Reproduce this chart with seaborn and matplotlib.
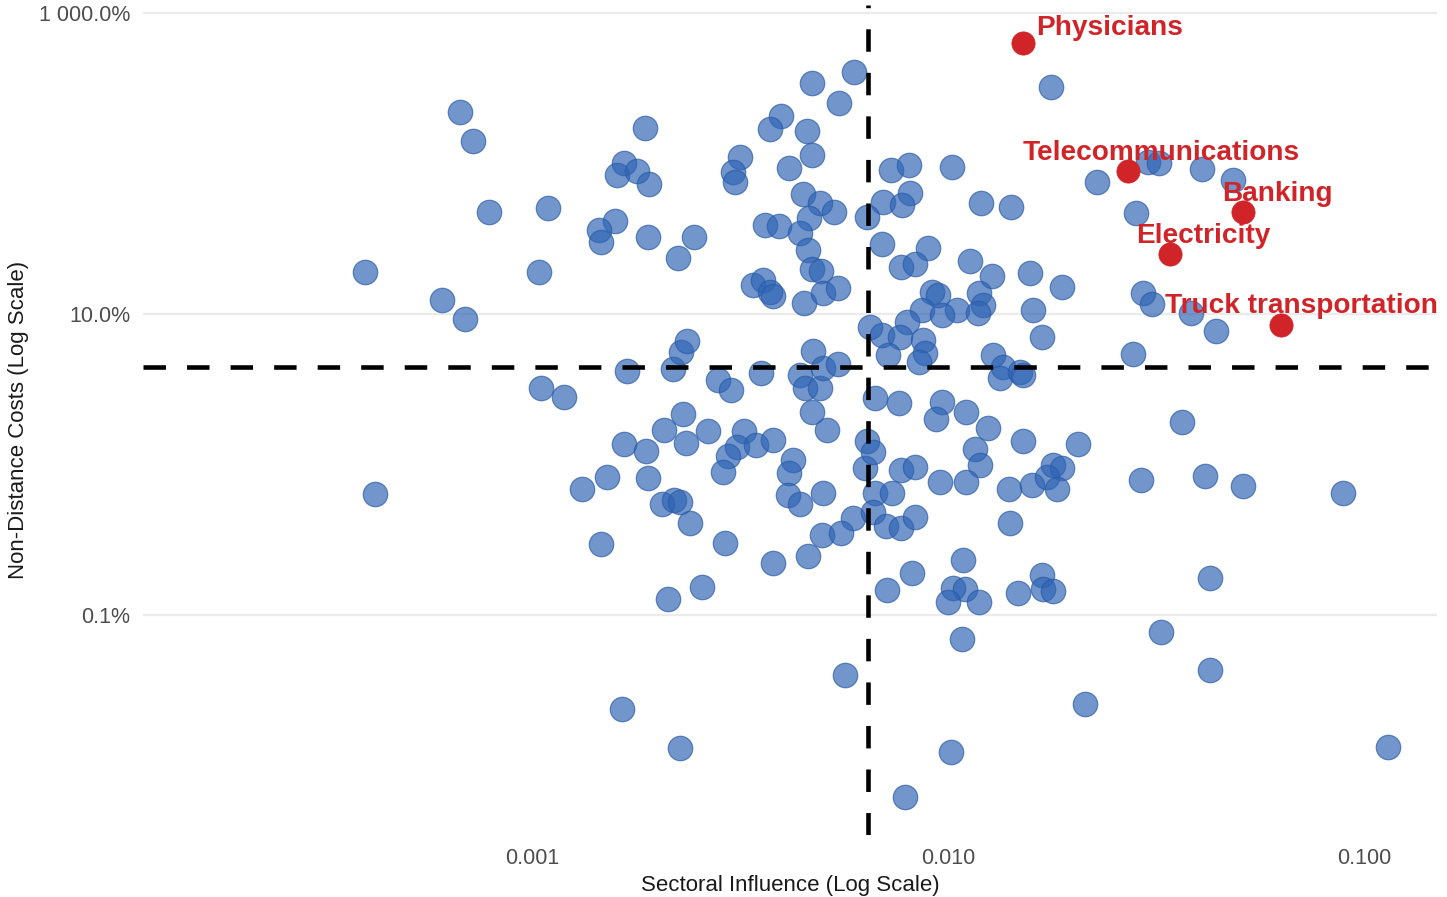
import matplotlib
matplotlib.use("Agg")
import matplotlib.pyplot as plt
import pandas as pd
import seaborn as sns
from matplotlib.ticker import FixedLocator, FixedFormatter, NullLocator

# Sectoral influence (x) and non-distance costs in percent (y) for each sector
sector_influence = [
    0.00594, 0.00471, 0.00547, 0.0177, 0.000671, 0.000721, 0.00187, 0.00397, 0.00372, 0.00458,
    0.00471, 0.00315, 0.00304, 0.00308, 0.00415, 0.00166, 0.00160, 0.00179, 0.00191, 0.00729,
    0.00806, 0.01023, 0.0228, 0.0303, 0.0321, 0.0408, 0.0484, 0.000788, 0.00109, 0.00158,
    0.00145, 0.00146, 0.00190, 0.00245, 0.00224, 0.00448, 0.00492, 0.00530, 0.00463, 0.00363,
    0.00392, 0.00441, 0.00461, 0.00471, 0.00495, 0.00698, 0.00811, 0.00775, 0.00638, 0.0120,
    0.01416, 0.0282, 0.00694, 0.00895, 0.00771, 0.00833, 0.01130, 0.01276, 0.01574, 0.01879,
    0.000397, 0.00104, 0.000608, 0.000690, 0.00340, 0.00359, 0.00373, 0.00380, 0.00451, 0.00501,
    0.00544, 0.00916, 0.00946, 0.01188, 0.01214, 0.00866, 0.01051, 0.01600, 0.00968, 0.02944,
    0.03090, 0.03837, 0.04406, 0.01683, 0.00650, 0.00694, 0.00797, 0.00767, 0.00871, 0.00881,
    0.00717, 0.00851, 0.01283, 0.01355, 0.01334, 0.01489, 0.01514, 0.02786, 0.00169, 0.00218,
    0.00228, 0.00236, 0.00279, 0.00301, 0.00355, 0.00473, 0.00441, 0.00453, 0.00492, 0.00501,
    0.00544, 0.00471, 0.00512, 0.00105, 0.00119, 0.00231, 0.00207, 0.00166, 0.00188, 0.00234,
    0.00265, 0.00323, 0.00311, 0.00296, 0.00288, 0.00345, 0.00380, 0.00424, 0.00415, 0.00412,
    0.00441, 0.00501, 0.00151, 0.00190, 0.00205, 0.00219, 0.00227, 0.00239, 0.00146, 0.00291,
    0.00591, 0.00498, 0.00553, 0.00461, 0.00380, 0.00638, 0.00631, 0.000420, 0.00132,
    0.00668, 0.00762, 0.00968, 0.00935, 0.01105, 0.01248, 0.00661, 0.01514, 0.02053, 0.01161,
    0.01194, 0.00771, 0.00833, 0.00957, 0.01105, 0.01402, 0.01592, 0.01787, 0.01879, 0.01730,
    0.01828, 0.00668, 0.00733, 0.00661, 0.00710, 0.00771, 0.00833, 0.01409, 0.01087, 0.00819,
    0.01683, 0.03652, 0.02911, 0.04149, 0.0512, 0.0891, 0.04266, 0.0325, 0.04266, 0.1143,
    0.00713, 0.01028, 0.01099, 0.01000, 0.01188, 0.01472, 0.01691, 0.01787, 0.01081, 0.02133,
    0.01016, 0.00788, 0.00212, 0.00256, 0.00565, 0.00164, 0.00227, 0.01180,
]
non_distance_cost_pct = [
    405, 343, 252, 322, 220, 141, 172, 207, 169, 164,
    114, 110, 87.8, 75.4, 93.3, 101, 83.9, 89.1, 73.1, 90.6,
    97.7, 94.8, 75.4, 102, 101, 91.9, 77.7, 47.6, 50.6, 41.5,
    36.1, 30.1, 32.5, 32.5, 23.6, 62.7, 54.7, 47.6, 43.4, 39.0,
    38.4, 34.5, 26.6, 19.9, 19.3, 55.5, 63.7, 53.0, 44.1, 54.7,
    51.4, 46.9, 29.2, 27.5, 20.5, 21.5, 22.5, 17.9, 18.7, 15.1,
    19.0, 19.0, 12.4, 9.27, 15.6, 16.8, 14.0, 13.2, 11.8, 13.8,
    14.9, 14.0, 13.4, 13.8, 11.5, 10.6, 10.6, 10.6, 9.85, 13.8,
    11.7, 10.2, 7.71, 7.03, 8.20, 7.25, 8.85, 7.03, 6.71, 5.51,
    5.34, 4.80, 5.34, 4.45, 3.76, 4.12, 3.94, 5.42, 4.18, 4.31,
    5.60, 6.62, 3.64, 3.13, 4.06, 5.68, 3.94, 3.23, 3.23, 4.38,
    4.66, 2.23, 1.69, 3.23, 2.81, 2.17, 1.69, 1.37, 1.23, 1.39,
    1.67, 1.67, 1.31, 1.14, 0.891, 1.35, 1.46, 1.07, 0.878, 0.627,
    0.547, 0.647, 0.826, 0.813, 0.547, 0.581, 0.564, 0.408, 0.298, 0.301,
    0.441, 0.340, 0.351, 0.247, 0.222, 1.43, 0.948, 0.637, 0.687,
    2.77, 2.56, 2.60, 2.01, 2.23, 1.75, 1.21, 1.43, 1.37, 1.27,
    0.993, 0.919, 0.962, 0.766, 0.766, 0.687, 0.731, 0.993, 0.948, 0.826,
    0.687, 0.647, 0.647, 0.483, 0.390, 0.379, 0.448, 0.408, 0.232, 0.190,
    0.184, 1.91, 0.789, 0.839, 0.720, 0.647, 0.176, 0.0771, 0.0431, 0.0133,
    0.147, 0.151, 0.149, 0.122, 0.122, 0.140, 0.149, 0.144, 0.0693, 0.0256,
    0.0123, 0.00618, 0.128, 0.153, 0.0399, 0.0237, 0.0131, 10.2,
]

# Highlighted sectors
highlight_names = ["Physicians", "Telecommunications", "Banking", "Electricity", "Truck transportation"]
highlight_influence = [0.0151, 0.0271, 0.0512, 0.0342, 0.0631]
highlight_cost_pct = [631, 89.0, 47.6, 25.0, 8.45]

# Quadrant cut-offs
influence_cutoff = 0.0064
cost_cutoff_pct = 4.45

x_ticks = [0.001, 0.01, 0.1]
x_tick_labels = ["0.001", "0.010", "0.100"]
y_ticks = [0.1, 10, 1000]
y_tick_labels = ["0.1%", "10.0%", "1 000.0%"]

sectors = pd.DataFrame({"influence": sector_influence, "cost": non_distance_cost_pct})
highlights = pd.DataFrame({"name": highlight_names, "influence": highlight_influence,
                           "cost": highlight_cost_pct})

sns.set_theme(style="white")
plt.rcParams["font.family"] = ["Liberation Sans", "DejaVu Sans"]

BLUE = "#2F64B4"
RED = "#D02428"

fig = plt.figure(figsize=(14.47, 8.97), dpi=100)
ax = fig.add_axes([143 / 1447, 62 / 897, 1294 / 1447, 830 / 897])
ax.set_xscale("log")
ax.set_yscale("log")
ax.set_xlim(0.000116, 0.1496)
ax.set_ylim(0.00345, 1130)

sns.scatterplot(data=sectors, x="influence", y="cost", ax=ax, s=310, color=BLUE,
                alpha=0.68, edgecolor="#285AA6", linewidth=0.9, zorder=3, legend=False)
sns.scatterplot(data=highlights, x="influence", y="cost", ax=ax, s=280, color=RED,
                alpha=1.0, edgecolor=RED, linewidth=0.5, zorder=4, legend=False)

dash = (0, (4.9, 4.6))
ax.axvline(influence_cutoff, color="black", linewidth=3.3, linestyle=dash, zorder=5)
ax.axhline(cost_cutoff_pct, color="black", linewidth=3.3, linestyle=dash, zorder=5)

# Label placement relative to each highlighted point (pixels)
label_offsets = [(87, 15), (33, 18), (34, 18), (33, 18), (20, 19)]
for name, xv, yv, (dx, dy) in zip(highlight_names, highlight_influence, highlight_cost_pct, label_offsets):
    ax.annotate(name, (xv, yv), xytext=(dx, dy), textcoords="offset pixels",
                ha="center", va="center", color=RED, fontsize=20.2, fontweight="bold", zorder=6)

ax.xaxis.set_major_locator(FixedLocator(x_ticks))
ax.xaxis.set_major_formatter(FixedFormatter(x_tick_labels))
ax.yaxis.set_major_locator(FixedLocator(y_ticks))
ax.yaxis.set_major_formatter(FixedFormatter(y_tick_labels))
ax.xaxis.set_minor_locator(NullLocator())
ax.yaxis.set_minor_locator(NullLocator())

ax.grid(False)
ax.yaxis.grid(True, color="#EBEBEB", linewidth=1.6, zorder=0)
ax.set_axisbelow(True)
for sp in ax.spines.values():
    sp.set_visible(False)
ax.tick_params(axis="both", length=0, labelsize=15.5, labelcolor="#4D4D4D")
ax.tick_params(axis="x", pad=9)
ax.tick_params(axis="y", pad=9)

ax.set_xlabel("Sectoral Influence (Log Scale)", fontsize=16, color="#1A1A1A", labelpad=5)
ax.set_ylabel("Non-Distance Costs (Log Scale)", fontsize=16, color="#1A1A1A", labelpad=7)

fig.savefig("out.png", dpi=100, facecolor="white")
